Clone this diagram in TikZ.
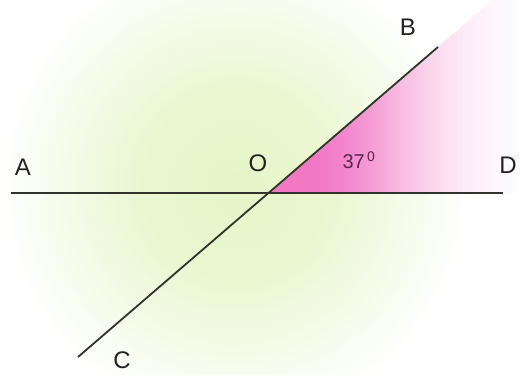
\documentclass[tikz,border=0pt]{standalone}
\usepackage{fontspec}
\usetikzlibrary{calc}
\setmainfont{Liberation Sans}
\definecolor{linec}{RGB}{48,52,45}
\definecolor{pinkc}{RGB}{242,120,198}
\definecolor{greenc}{RGB}{230,245,200}
\definecolor{labc}{RGB}{35,35,35}
\definecolor{anglec}{RGB}{85,40,80}
\pgfdeclareradialshading{greenglow}{\pgfpoint{0bp}{0bp}}{color(0bp)=(greenc); color(10bp)=(greenc!85!white); color(25bp)=(white); color(50bp)=(white)}
\tikzset{
  geoline/.style={draw=linec, line width=1.8pt},
  ptlabel/.style={text=labc, font=\fontsize{24}{24}\selectfont, inner sep=0pt},
  anglabel/.style={text=anglec, font=\fontsize{20}{20}\selectfont, inner sep=0pt}
}
\begin{document}
\begin{tikzpicture}[x=1pt, y=-1pt]
  \fill[white] (0,0) rectangle (520,375);
  \useasboundingbox (0,0) rectangle (520,375);
  % green glow
  \begin{scope}
    \clip (0,0) rectangle (520,375);
    \shade[shading=greenglow] (235,185) circle (235);
  \end{scope}
  % coordinates
  \coordinate (Aend) at (11,193);
  \coordinate (Dend) at (503,193);
  \coordinate (Cend) at (78,357);
  \coordinate (Bend) at (438,47);
  \coordinate (O) at (intersection of Aend--Dend and Cend--Bend);
  % pink angle region
  \begin{scope}
    \clip (0,0) rectangle (520,375);
    \clip (O) -- ($(O)!2.5!(Bend)$) -- (520,-200) -- (520,193) -- cycle;
    \foreach \i in {0,...,84} {
      \pgfmathsetmacro{\xx}{262+3*\i}
      \pgfmathsetmacro{\pp}{\xx<305 ? 100 : max(4,100*exp(-((\xx-305)/115)^2))}
      \fill[pinkc!\pp!white] (\xx,-10) rectangle ({\xx+3.6},200);
    }
  \end{scope}
  % lines
  \draw[geoline] (Aend) -- (Dend);
  \draw[geoline] (Cend) -- (Bend);
  % labels
  \node[ptlabel] (lA) at (23,167) {A};
  \node[ptlabel] (lO) at (258,163) {O};
  \node[ptlabel] (lB) at (408,27) {B};
  \node[ptlabel] (lD) at (508,165) {D};
  \node[ptlabel] (lC) at (122,360) {C};
  \node[anglabel] (ang) at (359,160) {37\textsuperscript{\,0}};
\end{tikzpicture}
\end{document}
